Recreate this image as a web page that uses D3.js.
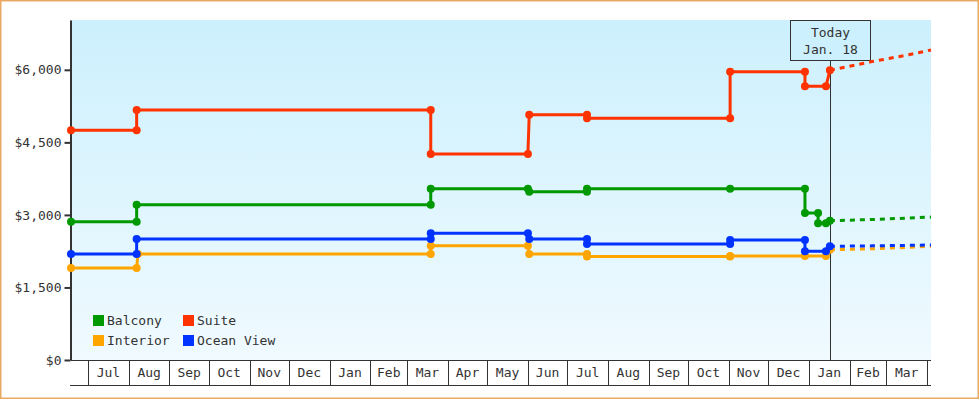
<!DOCTYPE html>
<html>
<head>
<meta charset="utf-8">
<script src="https://cdnjs.cloudflare.com/ajax/libs/d3/7.8.5/d3.min.js"></script>
<style>
body { margin: 0; background: #fff; }
svg { display: block; font-family: "DejaVu Sans Mono", monospace; }
</style>
</head>
<body>
<div id="chart-area"></div>
<script>
const parseDate = d3.timeParse("%Y-%m-%d")
const formatMonth = d3.timeFormat("%b")
const formatPrice = d3.format(",")

const W = 980
const H = 400
const MARGIN = { LEFT: 71, RIGHT: 49, TOP: 20, BOTTOM: 40 }
const WIDTH = W - MARGIN.LEFT - MARGIN.RIGHT
const HEIGHT = H - MARGIN.TOP - MARGIN.BOTTOM

// time window shown and the "today" marker
const dateRange = ["2017-06-18", "2019-04-04"]
const today = "2019-01-18"
const todayLabel = ["Today", "Jan. 18"]

const yTicks = [0, 1500, 3000, 4500, 6000]
const yMax = 7030

const cabins = ["Balcony", "Suite", "Interior", "Ocean View"]
const colors = ["#009900", "#ff3300", "#ffa500", "#0033ff"]

// observed fares (each change is logged as old price, then new price)
const balconyDates = ["2017-06-18", "2017-08-07", "2017-08-07", "2018-03-19", "2018-03-19", "2018-06-01", "2018-06-02", "2018-07-16", "2018-07-16", "2018-11-02", "2018-12-29", "2018-12-29", "2019-01-08", "2019-01-08", "2019-01-14", "2019-01-17"]
const balconyPrices = [2860, 2860, 3210, 3210, 3540, 3540, 3480, 3480, 3540, 3540, 3540, 3040, 3040, 2830, 2830, 2880]

const suiteDates = ["2017-06-18", "2017-08-07", "2017-08-07", "2018-03-19", "2018-03-19", "2018-06-01", "2018-06-02", "2018-07-16", "2018-07-16", "2018-11-02", "2018-11-02", "2018-12-29", "2018-12-29", "2019-01-14", "2019-01-17"]
const suitePrices = [4750, 4750, 5170, 5170, 4260, 4260, 5070, 5070, 5000, 5000, 5960, 5960, 5660, 5660, 5990]

const interiorDates = ["2017-06-18", "2017-08-07", "2017-08-08", "2018-03-19", "2018-03-19", "2018-06-01", "2018-06-02", "2018-07-16", "2018-07-16", "2018-11-02", "2018-11-02", "2018-12-29", "2019-01-14", "2019-01-17"]
const interiorPrices = [1900, 1900, 2190, 2190, 2360, 2360, 2190, 2190, 2140, 2140, 2150, 2150, 2150, 2280]

const oceanDates = ["2017-06-18", "2017-08-07", "2017-08-07", "2018-03-19", "2018-03-19", "2018-06-01", "2018-06-02", "2018-07-16", "2018-07-16", "2018-11-02", "2018-11-02", "2018-12-29", "2018-12-29", "2019-01-14", "2019-01-17"]
const oceanPrices = [2190, 2190, 2500, 2500, 2620, 2620, 2500, 2500, 2400, 2400, 2480, 2480, 2250, 2250, 2350]

// projected fares (dotted)
const forecastDates = ["2019-01-17", "2019-02-18", "2019-03-18", "2019-04-04"]
const balconyForecast = [2880, 2905, 2935, 2955]
const suiteForecast = [5990, 6170, 6310, 6410]
const interiorForecast = [2280, 2300, 2330, 2350]
const oceanForecast = [2350, 2360, 2370, 2380]

const seriesDates = [balconyDates, suiteDates, interiorDates, oceanDates]
const seriesPrices = [balconyPrices, suitePrices, interiorPrices, oceanPrices]
const seriesForecast = [balconyForecast, suiteForecast, interiorForecast, oceanForecast]

const series = cabins.map((name, i) => ({
	name: name,
	color: colors[i],
	points: d3.zip(seriesDates[i], seriesPrices[i]).map(p => ({ date: parseDate(p[0]), price: p[1] })),
	forecast: d3.zip(forecastDates, seriesForecast[i]).map(p => ({ date: parseDate(p[0]), price: p[1] }))
}))

const svg = d3.select("#chart-area").append("svg")
	.attr("width", W)
	.attr("height", H)

// outer frame
svg.append("rect")
	.attr("x", 0.75)
	.attr("y", 0.75)
	.attr("width", W - 2.5)
	.attr("height", H - 2.5)
	.attr("fill", "#fff")
	.attr("stroke", "#e9a962")
	.attr("stroke-width", 1.5)

const grad = svg.append("defs").append("linearGradient")
	.attr("id", "bg")
	.attr("x1", 0).attr("y1", 0).attr("x2", 0).attr("y2", 1)
grad.append("stop").attr("offset", "0%").attr("stop-color", "#ccf0fd")
grad.append("stop").attr("offset", "100%").attr("stop-color", "#f0faff")

const g = svg.append("g")
	.attr("transform", `translate(${MARGIN.LEFT}, ${MARGIN.TOP})`)

g.append("rect")
	.attr("width", WIDTH)
	.attr("height", HEIGHT)
	.attr("fill", "url(#bg)")

// scales
const x = d3.scaleTime()
	.domain(dateRange.map(parseDate))
	.range([0, WIDTH])
const y = d3.scaleLinear()
	.domain([0, yMax])
	.range([HEIGHT, 0])

// month band under the plot
const months = d3.timeMonth.range(x.domain()[0], x.domain()[1])
const band = g.append("g")
	.attr("transform", `translate(0, ${HEIGHT})`)
	.attr("stroke", "#333")
	.attr("stroke-width", 1)

band.append("line")
	.attr("x1", 0).attr("x2", WIDTH)
	.attr("y1", 0.5).attr("y2", 0.5)
band.append("line")
	.attr("x1", -1).attr("x2", WIDTH)
	.attr("y1", 25.5).attr("y2", 25.5)
band.selectAll(".month-line")
	.data(months)
	.enter().append("line")
	.attr("class", "month-line")
	.attr("x1", d => Math.round(x(d)) + 0.5)
	.attr("x2", d => Math.round(x(d)) + 0.5)
	.attr("y1", 1)
	.attr("y2", 25)

band.selectAll(".month-label")
	.data(months.slice(0, -1))
	.enter().append("text")
	.attr("class", "month-label")
	.attr("x", (d, i) => (x(d) + x(months[i + 1])) / 2)
	.attr("y", 17)
	.attr("text-anchor", "middle")
	.attr("stroke", "none")
	.attr("fill", "#333")
	.style("font-size", "13px")
	.text(d => formatMonth(d))

// y axis
const yAxisCall = d3.axisLeft(y)
	.tickValues(yTicks)
	.tickSize(6)
	.tickSizeOuter(0)
	.tickPadding(3)
	.tickFormat(d => "$" + formatPrice(d))

const yAxis = g.append("g")
	.attr("class", "y axis")
	.attr("transform", "translate(-0.5, 0)")
	.call(yAxisCall)
yAxis.select(".domain").attr("stroke", "#333").attr("stroke-width", 2)
yAxis.selectAll(".tick line").attr("stroke", "#333").attr("stroke-width", 2)
yAxis.selectAll(".tick text")
	.attr("fill", "#333")
	.style("font-size", "13px")
	.style("font-family", "DejaVu Sans Mono, monospace")

// today marker
const tx = Math.round(x(parseDate(today))) - 0.5
g.append("line")
	.attr("x1", tx).attr("x2", tx)
	.attr("y1", 40).attr("y2", HEIGHT)
	.attr("stroke", "#333")
	.attr("stroke-width", 1)
g.append("rect")
	.attr("x", tx - 40)
	.attr("y", 0.5)
	.attr("width", 80)
	.attr("height", 40)
	.attr("fill", "#ccf0fd")
	.attr("stroke", "#333")
	.attr("stroke-width", 1)
g.selectAll(".today-label")
	.data(todayLabel)
	.enter().append("text")
	.attr("class", "today-label")
	.attr("x", tx)
	.attr("y", (d, i) => 17 + i * 17)
	.attr("text-anchor", "middle")
	.attr("fill", "#333")
	.style("font-size", "13px")
	.text(d => d)

// line generator
const line = d3.line()
	.x(d => x(d.date))
	.y(d => y(d.price))

const cabinGroups = g.selectAll(".cabin")
	.data(series)
	.enter().append("g")
	.attr("class", "cabin")

cabinGroups.append("path")
	.attr("fill", "none")
	.attr("stroke", d => d.color)
	.attr("stroke-width", 3)
	.attr("stroke-dasharray", "5,5")
	.attr("d", d => line(d.forecast))

cabinGroups.append("path")
	.attr("fill", "none")
	.attr("stroke", d => d.color)
	.attr("stroke-width", 3)
	.attr("d", d => line(d.points))

cabinGroups.each(function (s) {
	d3.select(this).selectAll("circle")
		.data(s.points)
		.enter().append("circle")
		.attr("cx", d => x(d.date))
		.attr("cy", d => y(d.price))
		.attr("r", 4)
		.attr("fill", s.color)
})

// legend
const legend = g.append("g")
	.attr("transform", `translate(22, ${HEIGHT - 45})`)
const legendItem = legend.selectAll(".legend-item")
	.data(series)
	.enter().append("g")
	.attr("class", "legend-item")
	.attr("transform", (d, i) => `translate(${(i % 2) * 90}, ${Math.floor(i / 2) * 20})`)
legendItem.append("rect")
	.attr("width", 11)
	.attr("height", 11)
	.attr("fill", d => d.color)
legendItem.append("text")
	.attr("x", 14)
	.attr("y", 10)
	.attr("fill", "#333")
	.style("font-size", "13px")
	.text(d => d.name)
</script>
</body>
</html>
